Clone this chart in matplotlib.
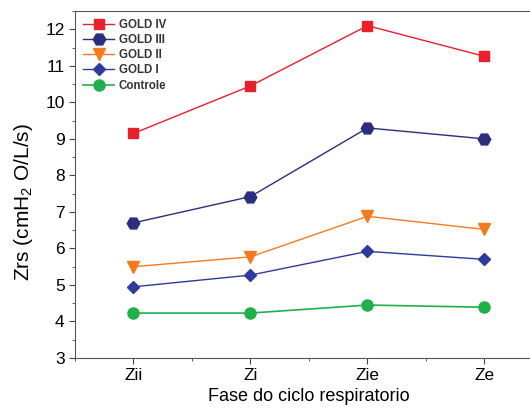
import matplotlib
matplotlib.use('Agg')
import matplotlib.pyplot as plt
from matplotlib.ticker import MultipleLocator

plt.rcParams['font.family'] = ['Liberation Sans', 'DejaVu Sans']
plt.rcParams['mathtext.fontset'] = 'custom'
plt.rcParams['mathtext.rm'] = 'Liberation Sans'
plt.rcParams['mathtext.it'] = 'Liberation Sans:italic'

phases = ['Zii', 'Zi', 'Zie', 'Ze']
gold4 = [9.15, 10.45, 12.1, 11.26]
gold3 = [6.7, 7.42, 9.3, 9.0]
gold2 = [5.5, 5.77, 6.88, 6.52]
gold1 = [4.95, 5.27, 5.92, 5.7]
controle = [4.23, 4.23, 4.45, 4.39]

x = [1, 2, 3, 4]

fig = plt.figure(figsize=(5.3, 4.19), dpi=100)
ax = fig.add_axes([0.1415, 0.1456, 0.883, 0.828])

ax.plot(x, gold4, color='#e8202a', lw=1, marker='s', ms=7, label='GOLD IV')
ax.plot(x, gold3, color='#2b2d7e', lw=1, marker='H', ms=9, label='GOLD III')
ax.plot(x, gold2, color='#f47a20', lw=1, marker='v', ms=8, label='GOLD II')
ax.plot(x, gold1, color='#2e3a9c', lw=1, marker='D', ms=6.5, label='GOLD I')
ax.plot(x, controle, color='#1fb04b', lw=1.2, marker='o', ms=8, label='Controle')

ax.set_xlim(0.5, 4.5)
ax.set_ylim(3, 12.5)
ax.set_xticks(x)
ax.set_xticklabels(phases)
ax.xaxis.set_minor_locator(MultipleLocator(0.5))
ax.yaxis.set_major_locator(MultipleLocator(1))
ax.yaxis.set_minor_locator(MultipleLocator(0.5))
ax.tick_params(which='both', direction='out', labelsize=12.5, color='#444444')
ax.tick_params(which='major', length=4)
ax.tick_params(which='minor', length=2.5)
for s in ax.spines.values():
    s.set_color('#555555')

ax.set_xlabel('Fase do ciclo respiratorio', fontsize=13, labelpad=3)
ax.set_ylabel('Zrs (cmH$_2$ O/L/s)', fontsize=15)
ax.yaxis.set_label_coords(-0.085, 0.45)

leg = ax.legend(loc='upper left', frameon=False, fontsize=8.3,
                handlelength=2.7, labelspacing=0.27, borderaxespad=0.3,
                handletextpad=0.4)
for t in leg.get_texts():
    t.set_fontweight('bold')
    t.set_color('#333333')

fig.savefig('out.png', dpi=100)
